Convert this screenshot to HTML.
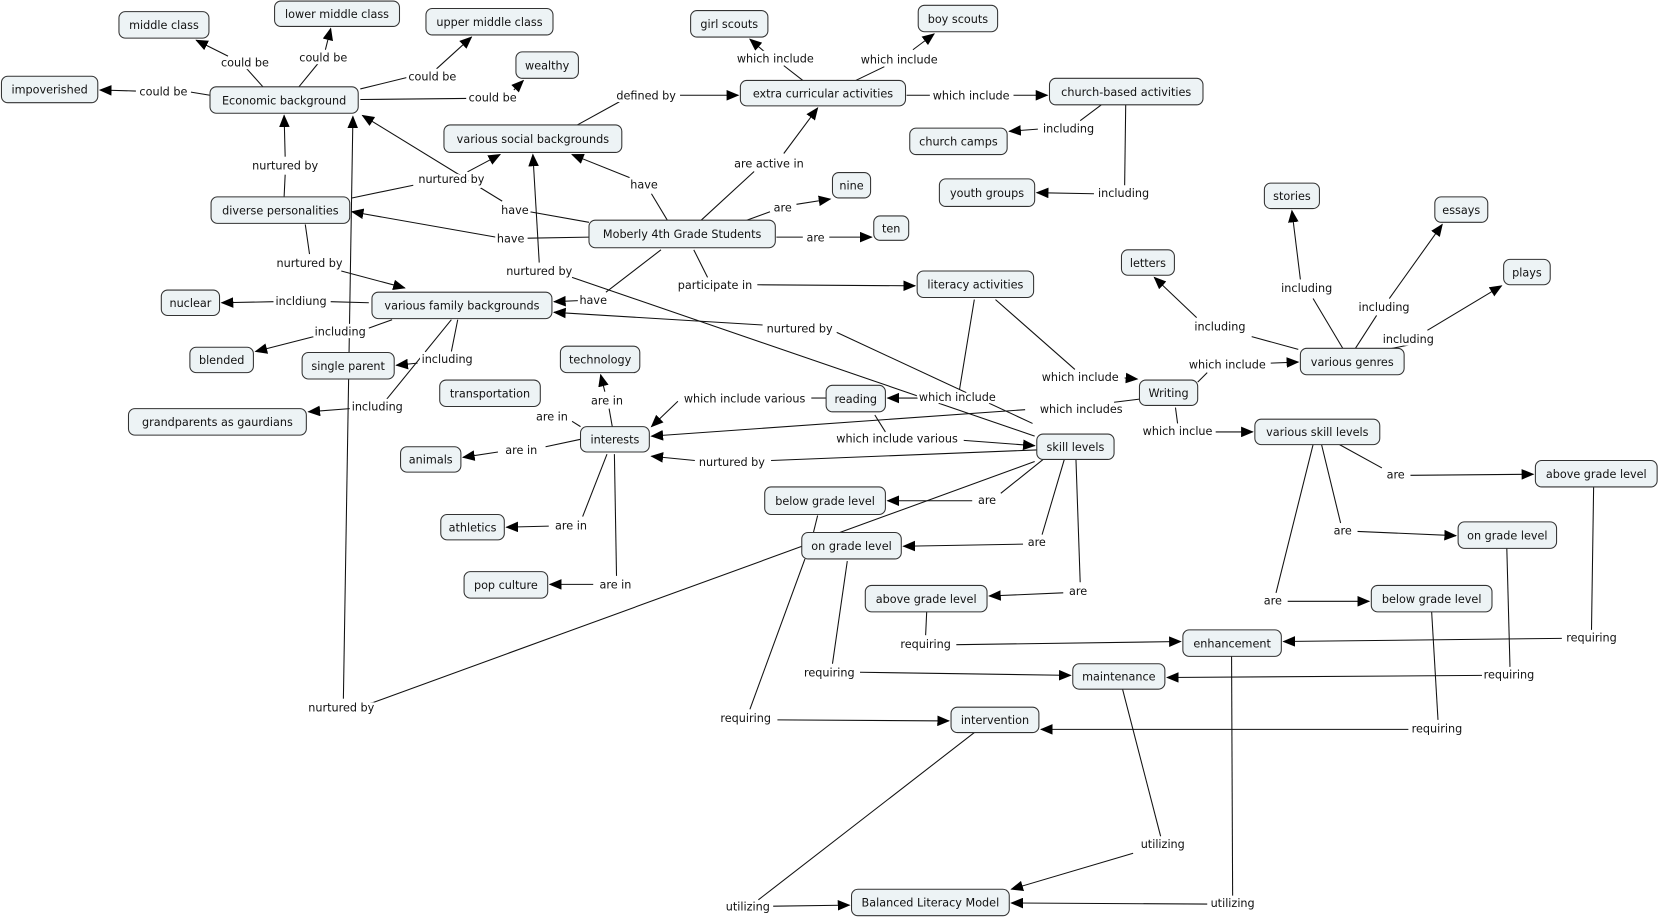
<!DOCTYPE html>
<html><head><meta charset="utf-8"><style>
html,body{margin:0;padding:0;background:#fff;}
svg{display:block}
text{font-family:"DejaVu Sans","Liberation Sans",sans-serif;font-size:10.6px;fill:#111}
.n rect{fill:#edf3f5;stroke:#333;stroke-width:1}
.l text{paint-order:stroke;stroke:#fff;stroke-width:5px;stroke-linejoin:round}
line{stroke:#111;stroke-width:1}
.a{marker-end:url(#ah)}
</style></head><body>
<svg width="1666" height="921" viewBox="0 0 1573 870" xmlns="http://www.w3.org/2000/svg">
<defs><marker id="ah" markerUnits="userSpaceOnUse" markerWidth="12" markerHeight="10" refX="11" refY="5" orient="auto"><path d="M0,0 L12,5 L0,10 z" fill="#000"/></marker></defs>
<g>
<line x1="248" y1="82" x2="231" y2="63"/><line class="a" x1="215" y1="53" x2="185" y2="38"/>
<line x1="282" y1="82" x2="300" y2="60"/><line class="a" x1="307" y1="47" x2="312" y2="27"/>
<line x1="340" y1="84" x2="385" y2="73"/><line class="a" x1="412" y1="65" x2="445" y2="35"/>
<line x1="340" y1="94" x2="440" y2="93"/><line class="a" x1="485" y1="85" x2="494" y2="76"/>
<line x1="198" y1="90" x2="180" y2="87"/><line class="a" x1="128" y1="86" x2="94" y2="85"/>
<line x1="268" y1="186" x2="269" y2="165"/><line class="a" x1="269" y1="148" x2="268" y2="109"/>
<line x1="332" y1="187" x2="390" y2="175"/><line class="a" x1="440" y1="163" x2="472" y2="146"/>
<line x1="556" y1="210" x2="500" y2="200"/><line class="a" x1="474" y1="190" x2="342" y2="109"/>
<line x1="630" y1="208" x2="615" y2="183"/><line class="a" x1="595" y1="168" x2="540" y2="146"/>
<line x1="556" y1="224" x2="498" y2="225"/><line class="a" x1="468" y1="224" x2="332" y2="200"/>
<line x1="662" y1="208" x2="712" y2="162"/><line class="a" x1="740" y1="145" x2="772" y2="102"/>
<line x1="705" y1="208" x2="727" y2="200"/><line class="a" x1="752" y1="193" x2="784" y2="188"/>
<line x1="733" y1="224" x2="758" y2="224"/><line class="a" x1="783" y1="224" x2="823" y2="224"/>
<line x1="624" y1="236" x2="572" y2="276"/><line class="a" x1="546" y1="284" x2="523" y2="285"/>
<line x1="655" y1="236" x2="668" y2="262"/><line class="a" x1="715" y1="269" x2="864" y2="270"/>
<line x1="545" y1="118" x2="585" y2="96"/><line class="a" x1="642" y1="90" x2="697" y2="90"/>
<line x1="758" y1="76" x2="740" y2="62"/><line class="a" x1="722" y1="49" x2="708" y2="37"/>
<line x1="808" y1="76" x2="835" y2="63"/><line class="a" x1="862" y1="47" x2="882" y2="32"/>
<line x1="856" y1="90" x2="878" y2="90"/><line class="a" x1="957" y1="90" x2="989" y2="90"/>
<line x1="1040" y1="99" x2="1020" y2="114"/><line class="a" x1="980" y1="122" x2="953" y2="124"/>
<line x1="1063" y1="99" x2="1062" y2="175"/><line class="a" x1="1033" y1="183" x2="979" y2="182"/>
<line x1="288" y1="212" x2="292" y2="240"/><line class="a" x1="322" y1="256" x2="382" y2="272"/>
<line x1="977" y1="412" x2="540" y2="262"/><line class="a" x1="509" y1="248" x2="503" y2="146"/>
<line x1="975" y1="400" x2="790" y2="314"/><line class="a" x1="720" y1="307" x2="523" y2="295"/>
<line x1="977" y1="436" x2="340" y2="668"/><line class="a" x1="324" y1="660" x2="333" y2="110"/>
<line x1="979" y1="425" x2="728" y2="435"/><line class="a" x1="656" y1="435" x2="615" y2="431"/>
<line x1="826" y1="392" x2="836" y2="408"/><line class="a" x1="910" y1="416" x2="977" y2="421"/>
<line x1="920" y1="283" x2="906" y2="368"/><line class="a" x1="868" y1="376" x2="838" y2="376"/>
<line x1="940" y1="283" x2="1015" y2="349"/><line class="a" x1="1062" y1="357" x2="1074" y2="358"/>
<line x1="1076" y1="377" x2="1052" y2="380"/><line class="a" x1="968" y1="387" x2="615" y2="412"/>
<line x1="780" y1="376" x2="766" y2="376"/><line class="a" x1="640" y1="379" x2="615" y2="403"/>
<line x1="1110" y1="385" x2="1112" y2="400"/><line class="a" x1="1148" y1="408" x2="1183" y2="408"/>
<line x1="1131" y1="361" x2="1140" y2="352"/><line class="a" x1="1200" y1="343" x2="1226" y2="342"/>
<line x1="1226" y1="330" x2="1182" y2="318"/><line class="a" x1="1130" y1="300" x2="1090" y2="262"/>
<line x1="1268" y1="329" x2="1240" y2="282"/><line class="a" x1="1228" y1="264" x2="1220" y2="199"/>
<line x1="1280" y1="329" x2="1300" y2="298"/><line class="a" x1="1312" y1="282" x2="1362" y2="212"/>
<line x1="1310" y1="330" x2="1330" y2="326"/><line class="a" x1="1348" y1="312" x2="1418" y2="270"/>
<line x1="348" y1="286" x2="312" y2="285"/><line class="a" x1="258" y1="285" x2="209" y2="286"/>
<line x1="370" y1="302" x2="348" y2="310"/><line class="a" x1="296" y1="318" x2="241" y2="332"/>
<line x1="432" y1="302" x2="426" y2="332"/><line class="a" x1="394" y1="343" x2="374" y2="345"/>
<line x1="426" y1="302" x2="365" y2="377"/><line class="a" x1="330" y1="386" x2="291" y2="389"/>
<line x1="578" y1="403" x2="575" y2="386"/><line class="a" x1="571" y1="370" x2="567" y2="354"/>
<line x1="548" y1="403" x2="540" y2="398"/>
<line x1="548" y1="415" x2="515" y2="422"/><line class="a" x1="470" y1="427" x2="437" y2="432"/>
<line x1="573" y1="429" x2="550" y2="488"/><line class="a" x1="518" y1="497" x2="478" y2="498"/>
<line x1="580" y1="429" x2="582" y2="544"/><line class="a" x1="560" y1="552" x2="519" y2="552"/>
<line x1="985" y1="434" x2="945" y2="466"/><line class="a" x1="918" y1="473" x2="838" y2="473"/>
<line x1="1005" y1="434" x2="984" y2="505"/><line class="a" x1="966" y1="514" x2="853" y2="516"/>
<line x1="1016" y1="434" x2="1020" y2="550"/><line class="a" x1="1004" y1="560" x2="934" y2="563"/>
<line x1="1265" y1="420" x2="1305" y2="442"/><line class="a" x1="1332" y1="449" x2="1448" y2="448"/>
<line x1="1248" y1="420" x2="1266" y2="494"/><line class="a" x1="1282" y1="502" x2="1375" y2="506"/>
<line x1="1240" y1="420" x2="1205" y2="560"/><line class="a" x1="1216" y1="568" x2="1293" y2="568"/>
<line x1="875" y1="578" x2="874" y2="600"/><line class="a" x1="903" y1="609" x2="1115" y2="606"/>
<line x1="800" y1="530" x2="786" y2="627"/><line class="a" x1="812" y1="635" x2="1011" y2="638"/>
<line x1="760" y1="528" x2="708" y2="670"/><line class="a" x1="734" y1="680" x2="896" y2="681"/>
<line x1="1505" y1="460" x2="1503" y2="595"/><line class="a" x1="1475" y1="603" x2="1212" y2="606"/>
<line x1="1423" y1="518" x2="1426" y2="630"/><line class="a" x1="1400" y1="638" x2="1102" y2="640"/>
<line x1="1352" y1="578" x2="1358" y2="680"/><line class="a" x1="1330" y1="689" x2="983" y2="689"/>
<line x1="1060" y1="651" x2="1096" y2="790"/><line class="a" x1="1070" y1="806" x2="955" y2="840"/>
<line x1="920" y1="692" x2="716" y2="850"/><line class="a" x1="730" y1="856" x2="802" y2="855"/>
<line x1="1163" y1="620" x2="1164" y2="846"/><line class="a" x1="1140" y1="854" x2="955" y2="853"/>
<line x1="772" y1="487" x2="768" y2="503"/>
</g>
<g class="l" text-anchor="middle">
<text x="231" y="63">could be</text><text x="305" y="58">could be</text><text x="408" y="76">could be</text><text x="465" y="96">could be</text><text x="154" y="90">could be</text>
<text x="732" y="59">which include</text><text x="849" y="60">which include</text><text x="917" y="94">which include</text>
<text x="610" y="94">defined by</text><text x="1009" y="125">including</text><text x="1061" y="186">including</text>
<text x="269" y="160">nurtured by</text><text x="426" y="173">nurtured by</text><text x="486" y="202">have</text><text x="608" y="178">have</text><text x="482" y="229">have</text>
<text x="726" y="158">are active in</text><text x="739" y="200">are</text><text x="770" y="228">are</text>
<text x="292" y="252">nurtured by</text><text x="509" y="260">nurtured by</text><text x="560" y="287">have</text><text x="675" y="273">participate in</text>
<text x="284" y="288">incldiung</text><text x="321" y="317">including</text><text x="422" y="343">including</text><text x="356" y="388">including</text>
<text x="755" y="314">nurtured by</text><text x="1020" y="360">which include</text><text x="1159" y="348">which include</text>
<text x="1152" y="312">including</text><text x="1234" y="276">including</text><text x="1307" y="294">including</text><text x="1330" y="324">including</text>
<text x="573" y="382">are in</text><text x="521" y="397">are in</text><text x="492" y="429">are in</text><text x="539" y="500">are in</text><text x="581" y="556">are in</text>
<text x="703" y="380">which include various</text><text x="904" y="379">which include</text><text x="1021" y="390">which includes</text><text x="847" y="418">which include various</text><text x="691" y="440">nurtured by</text>
<text x="1112" y="411">which inclue</text>
<text x="932" y="476">are</text><text x="979" y="516">are</text><text x="1018" y="562">are</text>
<text x="1318" y="452">are</text><text x="1268" y="505">are</text><text x="1202" y="571">are</text>
<text x="874" y="612">requiring</text><text x="783" y="639">requiring</text><text x="704" y="682">requiring</text><text x="1503" y="606">requiring</text><text x="1425" y="641">requiring</text><text x="1357" y="692">requiring</text>
<text x="1098" y="801">utilizing</text><text x="706" y="860">utilizing</text><text x="1164" y="857">utilizing</text>
<text x="322" y="672">nurtured by</text>
</g>
<g class="n" text-anchor="middle">
<rect x="112" y="11" width="85" height="25" rx="6"/><text x="154.5" y="27.5">middle class</text>
<rect x="259" y="1" width="118" height="24" rx="6"/><text x="318" y="17">lower middle class</text>
<rect x="402" y="8" width="120" height="25" rx="6"/><text x="462" y="24.5">upper middle class</text>
<rect x="487" y="49" width="59" height="25" rx="6"/><text x="516.5" y="65.5">wealthy</text>
<rect x="1" y="72" width="91" height="25" rx="6"/><text x="46.5" y="88.5">impoverished</text>
<rect x="198" y="82" width="140" height="25" rx="6"/><text x="268" y="98.5">Economic background</text>
<rect x="652" y="10" width="73" height="25" rx="6"/><text x="688.5" y="26.5">girl scouts</text>
<rect x="867" y="5" width="75" height="25" rx="6"/><text x="904.5" y="21.5">boy scouts</text>
<rect x="699" y="76" width="156" height="24" rx="6"/><text x="777" y="92">extra curricular activities</text>
<rect x="991" y="74" width="145" height="25" rx="6"/><text x="1063.5" y="90.5">church-based activities</text>
<rect x="859" y="121" width="92" height="25" rx="6"/><text x="905" y="137.5">church camps</text>
<rect x="887" y="169" width="90" height="26" rx="6"/><text x="932" y="186">youth groups</text>
<rect x="419" y="118" width="168" height="26" rx="6"/><text x="503" y="135">various social backgrounds</text>
<rect x="786" y="163" width="36" height="24" rx="6"/><text x="804" y="179">nine</text>
<rect x="825" y="204" width="33" height="23" rx="6"/><text x="841.5" y="219.5">ten</text>
<rect x="556" y="208" width="176" height="26" rx="6"/><text x="644" y="225">Moberly 4th Grade Students</text>
<rect x="199" y="186" width="131" height="25" rx="6"/><text x="264.5" y="202.5">diverse personalities</text>
<rect x="1194" y="173" width="52" height="24" rx="6"/><text x="1220" y="189">stories</text>
<rect x="1355" y="186" width="50" height="24" rx="6"/><text x="1380" y="202">essays</text>
<rect x="1059" y="236" width="50" height="24" rx="6"/><text x="1084" y="252">letters</text>
<rect x="1420" y="245" width="44" height="24" rx="6"/><text x="1442" y="261">plays</text>
<rect x="866" y="256" width="110" height="25" rx="6"/><text x="921" y="272.5">literacy activities</text>
<rect x="152" y="274" width="55" height="24" rx="6"/><text x="179.5" y="290">nuclear</text>
<rect x="351" y="276" width="170" height="25" rx="6"/><text x="436" y="292.5">various family backgrounds</text>
<rect x="179" y="328" width="60" height="24" rx="6"/><text x="209" y="344">blended</text>
<rect x="285" y="333" width="87" height="25" rx="6"/><text x="328.5" y="349.5">single parent</text>
<rect x="529" y="327" width="75" height="25" rx="6"/><text x="566.5" y="343.5">technology</text>
<rect x="1228" y="329" width="98" height="25" rx="6"/><text x="1277" y="345.5">various genres</text>
<rect x="415" y="359" width="95" height="25" rx="6"/><text x="462.5" y="375.5">transportation</text>
<rect x="780" y="364" width="56" height="25" rx="6"/><text x="808" y="380.5">reading</text>
<rect x="1076" y="359" width="55" height="24" rx="6"/><text x="1103.5" y="375">Writing</text>
<rect x="121" y="386" width="168" height="25" rx="6"/><text x="205" y="402.5">grandparents as gaurdians</text>
<rect x="548" y="403" width="65" height="24" rx="6"/><text x="580.5" y="419">interests</text>
<rect x="1185" y="396" width="118" height="24" rx="6"/><text x="1244" y="412">various skill levels</text>
<rect x="979" y="410" width="73" height="24" rx="6"/><text x="1015.5" y="426">skill levels</text>
<rect x="378" y="422" width="57" height="24" rx="6"/><text x="406.5" y="438">animals</text>
<rect x="1450" y="435" width="115" height="25" rx="6"/><text x="1507.5" y="451.5">above grade level</text>
<rect x="722" y="460" width="114" height="26" rx="6"/><text x="779" y="477">below grade level</text>
<rect x="416" y="486" width="60" height="24" rx="6"/><text x="446" y="502">athletics</text>
<rect x="1377" y="493" width="93" height="25" rx="6"/><text x="1423.5" y="509.5">on grade level</text>
<rect x="757" y="503" width="94" height="25" rx="6"/><text x="804" y="519.5">on grade level</text>
<rect x="438" y="540" width="79" height="25" rx="6"/><text x="477.5" y="556.5">pop culture</text>
<rect x="817" y="553" width="115" height="25" rx="6"/><text x="874.5" y="569.5">above grade level</text>
<rect x="1295" y="553" width="114" height="25" rx="6"/><text x="1352" y="569.5">below grade level</text>
<rect x="1117" y="595" width="93" height="25" rx="6"/><text x="1163.5" y="611.5">enhancement</text>
<rect x="1013" y="627" width="87" height="24" rx="6"/><text x="1056.5" y="643">maintenance</text>
<rect x="898" y="668" width="83" height="24" rx="6"/><text x="939.5" y="684">intervention</text>
<rect x="804" y="840" width="149" height="25" rx="6"/><text x="878.5" y="856.5">Balanced Literacy Model</text>
</g>
</svg>
</body></html>
